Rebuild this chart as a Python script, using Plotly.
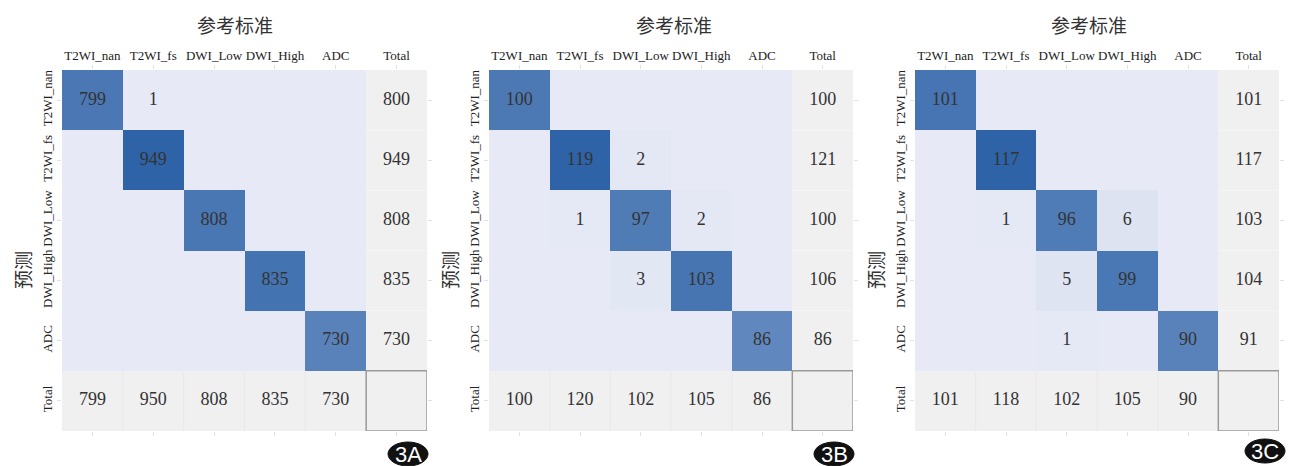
import plotly.graph_objects as go

# ---------------- data ----------------
classes = ["T2WI_nan", "T2WI_fs", "DWI_Low", "DWI_High", "ADC"]
total_label = "Total"
x_title = "参考标准"
y_title = "预测"
panel_tags = ["3A", "3B", "3C"]

# rows = predicted (预测), columns = reference (参考标准)
matrix_3a = [
    [799, 1, 0, 0, 0],
    [0, 949, 0, 0, 0],
    [0, 0, 808, 0, 0],
    [0, 0, 0, 835, 0],
    [0, 0, 0, 0, 730],
]
matrix_3b = [
    [100, 0, 0, 0, 0],
    [0, 119, 2, 0, 0],
    [0, 1, 97, 2, 0],
    [0, 0, 3, 103, 0],
    [0, 0, 0, 0, 86],
]
matrix_3c = [
    [101, 0, 0, 0, 0],
    [0, 117, 0, 0, 0],
    [0, 1, 96, 6, 0],
    [0, 0, 5, 99, 0],
    [0, 0, 1, 0, 90],
]
matrices = [matrix_3a, matrix_3b, matrix_3c]

# ---------------- layout constants ----------------
W, H = 1295, 466
panel_px = [(62, 427), (489, 853), (915, 1279)]   # grid left/right in px
grid_top, grid_bottom = 70, 431
title_cx = [235, 674, 1089]
badge_c = [(408, 454), (834, 454), (1265, 451)]

SERIF = "Liberation Serif, Times New Roman, serif"
CJK = "Noto Sans CJK SC"
TXT = "#333333"
cats = classes + [total_label]

fig = go.Figure()
shapes = []
annotations = []


def px2x(p):
    return p / W


def px2y(p):
    return 1 - p / H


for i, m in enumerate(matrices):
    n = i + 1
    xa = "x" if n == 1 else f"x{n}"
    ya = "y" if n == 1 else f"y{n}"
    zmax = max(max(r) for r in m)
    row_tot = [sum(r) for r in m]
    col_tot = [sum(m[r][c] for r in range(len(m))) for c in range(len(classes))]

    # totals (grey) - full 6x6 grid, main block left empty
    gray = [[0, "#f0f0f0"], [1, "#f0f0f0"]]
    ztot = [[None] * len(classes) + [row_tot[r]] for r in range(len(classes))]
    ztot.append(col_tot + [0])
    fig.add_trace(go.Heatmap(
        x=cats, y=cats, z=ztot,
        colorscale=gray, zmin=0, zmax=1, showscale=False, hoverinfo="skip",
        xaxis=xa, yaxis=ya,
    ))
    # main confusion matrix colours
    fig.add_trace(go.Heatmap(
        x=classes, y=classes, z=m,
        colorscale=[[0, "#e7eaf6"], [1, "#2e63a8"]],
        zmin=0, zmax=zmax, showscale=False, hoverinfo="skip",
        xaxis=xa, yaxis=ya,
    ))

    # cell numbers
    tx, ty, tt = [], [], []
    for r, row in enumerate(m):
        for c, v in enumerate(row):
            if v:
                tx.append(classes[c]); ty.append(classes[r]); tt.append(str(v))
    for r, v in enumerate(row_tot):
        tx.append(total_label); ty.append(classes[r]); tt.append(str(v))
    for c, v in enumerate(col_tot):
        tx.append(classes[c]); ty.append(total_label); tt.append(str(v))
    fig.add_trace(go.Scatter(
        x=tx, y=ty, text=tt, mode="text", textposition="middle center",
        textfont=dict(family=SERIF, size=18, color=TXT),
        hoverinfo="skip", xaxis=xa, yaxis=ya,
    ))

    x0, x1 = panel_px[i]
    axis_common = dict(
        type="category", categoryorder="array", categoryarray=cats,
        showgrid=False, zeroline=False, showline=False,
        ticks="outside", ticklen=4, tickcolor="#e2e2e2", mirror="ticks",
        tickfont=dict(family=SERIF, size=13, color="#222222"),
    )
    fig.update_layout(**{
        ("xaxis" if n == 1 else f"xaxis{n}"): dict(
            axis_common, side="top", domain=[px2x(x0), px2x(x1)],
            range=[-0.5, 5.5], anchor=ya, fixedrange=True),
        ("yaxis" if n == 1 else f"yaxis{n}"): dict(
            axis_common, domain=[px2y(grid_bottom), px2y(grid_top)],
            range=[5.5, -0.5], tickangle=-90, anchor=xa, fixedrange=True),
    })

    # faint separators between total cells
    for k in range(1, len(cats) - 1):
        shapes.append(dict(type="line", xref=xa, yref=ya, x0=4.5, x1=5.5,
                           y0=k - 0.5, y1=k - 0.5, line=dict(color="#f6f6f6", width=1)))
        shapes.append(dict(type="line", xref=xa, yref=ya, x0=k - 0.5, x1=k - 0.5,
                           y0=4.5, y1=5.5, line=dict(color="#e8e8ee", width=1)))

    # border around the empty corner cell
    shapes.append(dict(type="rect", xref=xa, yref=ya, x0=4.5, x1=5.5, y0=4.5, y1=5.5,
                       line=dict(color="#9a9a9a", width=1.5), fillcolor="rgba(0,0,0,0)"))

    # titles
    annotations.append(dict(text=x_title, xref="paper", yref="paper",
                            x=px2x(title_cx[i]), y=px2y(25), showarrow=False,
                            xanchor="center", yanchor="middle",
                            font=dict(family=CJK, size=19, color="#333333")))
    annotations.append(dict(text=y_title, xref="paper", yref="paper",
                            x=px2x(x0 - 40), y=px2y(270), showarrow=False, textangle=-90,
                            xanchor="center", yanchor="middle",
                            font=dict(family=CJK, size=19, color="#333333")))

    # badge
    bx, by = badge_c[i]
    shapes.append(dict(type="circle", xref="paper", yref="paper",
                       x0=px2x(bx - 20), x1=px2x(bx + 20),
                       y0=px2y(by + 12), y1=px2y(by - 12),
                       fillcolor="#111111", line=dict(color="#111111", width=1)))
    annotations.append(dict(text=panel_tags[i], xref="paper", yref="paper",
                            x=px2x(bx), y=px2y(by), showarrow=False,
                            xanchor="center", yanchor="middle",
                            font=dict(family="Liberation Sans Narrow, Liberation Sans, Arial",
                                      size=22, color="white")))

fig.update_layout(
    width=W, height=H, margin=dict(l=0, r=0, t=0, b=0),
    paper_bgcolor="white", plot_bgcolor="white",
    shapes=shapes, annotations=annotations, showlegend=False,
)

fig.write_html("out.html")
